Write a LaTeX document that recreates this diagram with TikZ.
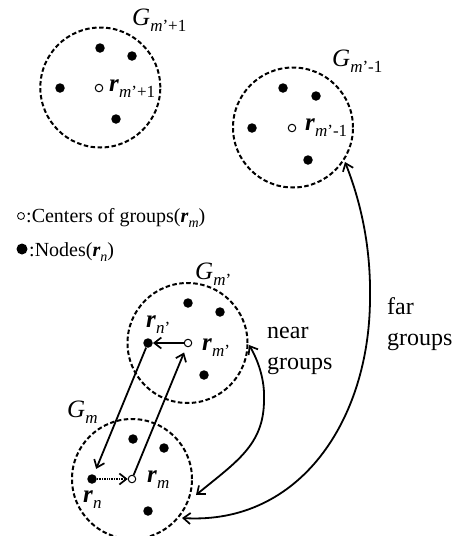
\documentclass[tikz,border=0pt]{standalone}
\usepackage{fontspec}
\setmainfont{Liberation Serif}
\usetikzlibrary{arrows.meta}
\newcommand{\lsub}[2]{\raisebox{-0.26em}{\fontsize{#1}{#1}\selectfont #2}}
\newcommand{\bvec}{\textbf{\textit{r}}}
\tikzset{
  grp/.style={circle, draw, dash pattern=on 4.5pt off 2.5pt, line width=2pt, minimum size=120pt, inner sep=0pt},
  nd/.style={circle, fill=black, inner sep=0pt, minimum size=9.5pt},
  ctr/.style={circle, draw, fill=white, line width=1pt, inner sep=0pt, minimum size=7.5pt},
  lbl/.style={inner sep=0pt, anchor=base west, font=\fontsize{25}{30}\selectfont},
  leg/.style={inner sep=0pt, anchor=base west, font=\fontsize{20}{24}\selectfont},
  side/.style={inner sep=0pt, anchor=base west, align=left, font=\fontsize{24}{31}\selectfont},
  barb/.tip={Straight Barb[length=7pt,width=11pt,line width=1.7pt]},
  tip/.style={-barb},
  arr/.style={line width=1.8pt, tip},
  dbl/.style={line width=1.8pt, barb-barb},
}
\begin{document}
\begin{tikzpicture}[x=1pt,y=-1pt]
\path[use as bounding box] (0,0) rectangle (471,536);

% group m'+1
\node[grp] (G1) at (100.3,87.5) {};
\node[nd] (g1a) at (100,48) {};
\node[nd] (g1b) at (132,56) {};
\node[nd] (g1c) at (60,88) {};
\node[nd] (g1d) at (116,119) {};
\node[ctr] (r1) at (99,88) {};
\node[lbl] (G1l) at (132,25) {\textit{G}\lsub{17}{\textit{m}'+1}};
\node[lbl] (r1l) at (109,91) {\bvec\lsub{17}{\textit{m}'+1}};

% group m'-1
\node[grp] (G2) at (293,127.5) {};
\node[nd] (g2a) at (283,88) {};
\node[nd] (g2b) at (316,96) {};
\node[nd] (g2c) at (252,128) {};
\node[nd] (g2d) at (308,160) {};
\node[ctr] (r2) at (292,128) {};
\node[lbl] (G2l) at (332,66) {\textit{G}\lsub{17}{\textit{m}'-1}};
\node[lbl] (r2l) at (305,130) {\bvec\lsub{17}{\textit{m}'-1}};

% legend
\node[circle, draw, line width=0.8pt, inner sep=0pt, minimum size=7pt] (lgc) at (21,216) {};
\node[leg] (lgct) at (26,222) {:Centers of groups(\bvec\lsub{14}{\textit{m}})};
\node[circle, fill=black, inner sep=0pt, minimum size=11pt] (lgn) at (22,249) {};
\node[leg] (lgnt) at (29,256) {:Nodes(\bvec\lsub{14}{\textit{n}})};

% group m'
\node[grp] (G3) at (187.5,343) {};
\node[nd] (g3a) at (188,303) {};
\node[nd] (g3b) at (220,312) {};
\node[nd] (rnp) at (148,343) {};
\node[nd] (g3d) at (204,375) {};
\node[ctr] (rmp) at (188,343) {};
\node[lbl] (G3l) at (195,279) {\textit{G}\lsub{17}{\textit{m}'}};
\node[lbl] (rmpl) at (202,350) {\bvec\lsub{17}{\textit{m}'}};
\node[lbl] (rnpl) at (146,327) {\bvec\lsub{17}{\textit{n}'}};

% group m
\node[grp] (G4) at (132,479) {};
\node[nd] (g4a) at (133,439) {};
\node[nd] (g4b) at (164,448) {};
\node[nd] (rn) at (92,479) {};
\node[nd] (g4d) at (148,511) {};
\node[ctr] (rm) at (132,479) {};
\node[lbl] (G4l) at (67,417) {\textit{G}\lsub{17}{\textit{m}}};
\node[lbl] (rml) at (147,482) {\bvec\lsub{17}{\textit{m}}};
\node[lbl] (rnl) at (83,502) {\bvec\lsub{17}{\textit{n}}};

% vector arrows
\draw[line width=1.7pt, dash pattern=on 1pt off 0.7pt, tip] (rn) -- (rm);
\draw[arr, shorten >=6pt] (rm) -- (rmp);
\draw[arr] (rmp) -- (rnp);
\draw[arr, shorten >=6pt] (rnp) -- (rn);

% near / far connectors
\coordinate (nearlo) at (196,495);
\coordinate (nearhi) at (249,345);
\coordinate (farhi) at (345,162);
\coordinate (farlo) at (182,518);
\draw[dbl] (nearlo) .. controls (236,462) and (264,445) .. (264,400)
  .. controls (265,380) and (258,360) .. (nearhi);
\draw[dbl] (farhi) .. controls (362,205) and (371,250) .. (370,300)
  .. controls (369,420) and (300,525) .. (farlo);

\node[side] (neart) at (267,369) {near\\groups};
\node[side] (fart) at (387,345) {far\\groups};
\end{tikzpicture}
\end{document}
